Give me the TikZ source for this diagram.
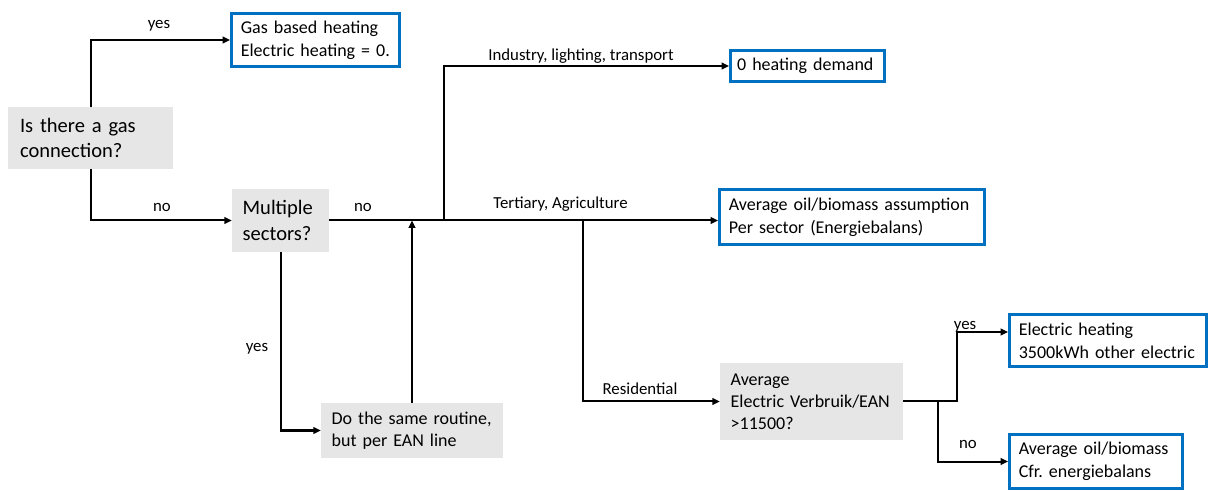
\documentclass[tikz,border=0pt]{standalone}
\usepackage{fontspec}
\setmainfont{Carlito}
\usetikzlibrary{arrows.meta}
\definecolor{boxgray}{RGB}{231,230,230}
\definecolor{boxblue}{RGB}{0,112,192}
\frenchspacing
\tikzset{
  question/.style={fill=boxgray, align=left, inner xsep=8pt, inner ysep=0pt, font=\fontsize{13.5}{16.5}\selectfont},
  bigquestion/.style={question, font=\fontsize{15.4}{19}\selectfont},
  outcome/.style={draw=boxblue, line width=2.25pt, fill=white, align=left, inner xsep=7pt, inner ysep=0pt, font=\fontsize{13.5}{17}\selectfont},
  flow/.style={line width=1.5pt, -{Triangle[length=5.5pt,width=5pt]}},
  lbl/.style={font=\fontsize{12.6}{14}\selectfont, inner sep=0pt}
}
\begin{document}
\begin{tikzpicture}[x=0.75pt,y=0.75pt,yscale=-1,xscale=1]
\useasboundingbox (0,0) rectangle (1210,491);

%Shape: Rectangle [gray questions]
\node[bigquestion, minimum width=123.75pt, minimum height=46.5pt, text width=105.75pt, inner xsep=9pt] (gas) at (90.5,138) {Is there a gas\\connection?};
\node[bigquestion, minimum width=72.75pt, minimum height=47.25pt, text width=56.75pt] (multi) at (280.5,220.5) {Multiple\\sectors?};
\node[question, minimum width=136.5pt, minimum height=41.25pt, text width=120.5pt] (routine) at (412,430.5) {Do the same routine,\\but per EAN line};
\node[question, minimum width=137.25pt, minimum height=57.75pt, text width=121.25pt] (avgel) at (811.5,401.5) {Average\\Electric Verbruik/EAN\\>11500?};

%Shape: Rectangle [blue outcomes]
\node[outcome, minimum width=126pt, minimum height=39.75pt, text width=112pt] (gasheat) at (315.5,40) {Gas based heating\\Electric heating = 0.};
\node[outcome, minimum width=115.5pt, minimum height=23.25pt, text width=105.5pt, inner xsep=5pt] (zero) at (807.5,66) {0 heating demand};
\node[outcome, minimum width=198.75pt, minimum height=41.25pt, text width=184.75pt] (oilsec) at (852,217) {Average oil/biomass assumption\\Per sector (Energiebalans)};
\node[outcome, minimum width=147.75pt, minimum height=39pt, text width=133.75pt] (elheat) at (1108,340.5) {Electric heating\\3500kWh other electric};
\node[outcome, minimum width=129.75pt, minimum height=40.5pt, text width=115.75pt] (oilres) at (1096,461.5) {Average oil/biomass\\Cfr. energiebalans};

% junctions
\coordinate (junc) at (444,220.5);
\coordinate (resjunc) at (583,220.5);
\coordinate (fork) at (938,401.5);
\coordinate (forkup) at (957,401.5);
\coordinate (elin) at (1008,332);

%Straight Lines
\draw[flow] (gas.north) |- (gasheat.west);
\draw[flow] (gas.south) |- (multi.west);
\draw[flow] (multi.east) -- (oilsec.west |- multi.east);
\draw[flow] (junc) |- (zero.west);
\draw[flow] (resjunc) |- (avgel.west);
\draw[flow] (multi.south) |- (routine.west);
\draw[flow] (routine.north) -- (routine.north |- multi.east);
\draw[flow] (avgel.east) -- (forkup) |- (elin);
\draw[flow] (fork) |- (oilres.west);

% Text Node
\node[lbl] (yes1) at (159,26) {yes};
\node[lbl] (no1) at (162,207) {no};
\node[lbl] (no2) at (363,207) {no};
\node[lbl] (yes2) at (257,349) {yes};
\node[lbl] (ind) at (581,56) {Industry, lighting, transport};
\node[lbl] (ter) at (560.5,204) {Tertiary, Agriculture};
\node[lbl] (res) at (640,389) {Residential};
\node[lbl] (yes3) at (965,327) {yes};
\node[lbl] (no3) at (968,444) {no};
\end{tikzpicture}
\end{document}
